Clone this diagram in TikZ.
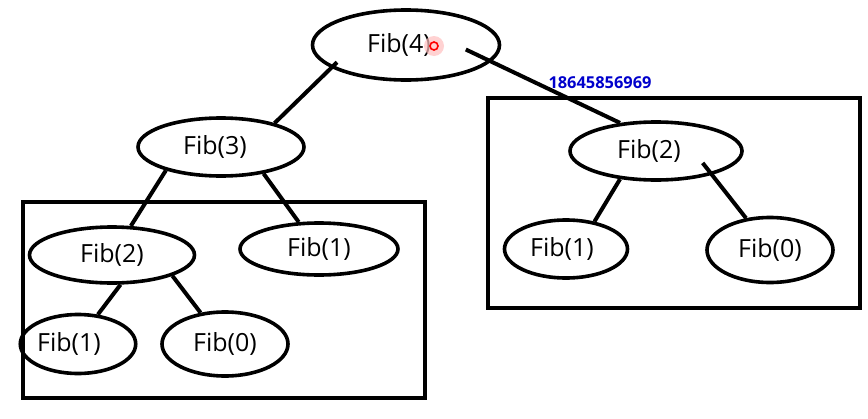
\documentclass[tikz,border=0pt]{standalone}
\usepackage{fontspec}
\setsansfont{Open Sans}
\usetikzlibrary{
    shapes.geometric,
    positioning
}
\tikzset{
    fib/.style={draw, ellipse, line width=1.8pt, inner sep=0pt,
        font=\sffamily\fontsize{12.5}{14}\selectfont},
    link/.style={line width=2pt},
    framebox/.style={line width=2pt}
}

\begin{document}
\begin{tikzpicture}[x=0.5pt, y=-0.5pt]
    \useasboundingbox (0,0) rectangle (868,418);

    \draw[framebox] (23,202) rectangle (425,398);
    \draw[framebox] (488,98) rectangle (860,308);

    \node[fib, minimum width=93.5pt, minimum height=35pt] (f4) at (406,45) {Fib(4)\hspace*{7pt}};
    \node[fib, minimum width=83pt, minimum height=29pt] (f3) at (221,147) {Fib(3)\hspace*{6pt}};
    \node[fib, minimum width=82.5pt, minimum height=28pt] (f2l) at (112,255) {Fib(2)};
    \node[fib, minimum width=79pt, minimum height=26pt] (f1m) at (319,249) {Fib(1)};
    \node[fib, minimum width=56pt, minimum height=29.5pt] (f1l) at (78,344) {Fib(1)\hspace*{9pt}};
    \node[fib, minimum width=63pt, minimum height=32pt] (f0l) at (225,344) {Fib(0)};
    \node[fib, minimum width=86pt, minimum height=29pt] (f2r) at (656,151) {Fib(2)\hspace*{7pt}};
    \node[fib, minimum width=61.5pt, minimum height=29pt] (f1r) at (566,249) {Fib(1)\hspace*{4pt}};
    \node[fib, minimum width=63pt, minimum height=32.5pt] (f0r) at (770,250) {Fib(0)};

    \draw[link]
    (f4.197) edge[shorten <=-4pt] (f3.24)
    (f4.-11) edge[shorten <=-14pt] (f2r.142)
    (f3.203) edge (f2l.57)
    (f3.328) edge (f1m.127)
    (f2l.286) edge (f1l.56)
    (f2l.341) edge (f0l.128)
    (f2r.218) edge (f1r.44)
    (f2r.337) edge[shorten <=-7.5pt] (f0r.127);

    % cursor mark and number
    \fill[red!25, opacity=0.7] (434,46) circle (5pt);
    \draw[red, line width=0.8pt] (434,46) circle (2pt);
    \node[text=blue!80!black, font=\sffamily\bfseries\fontsize{8.2}{10}\selectfont] (num) at (600,83) {18645856969};
\end{tikzpicture}
\end{document}
